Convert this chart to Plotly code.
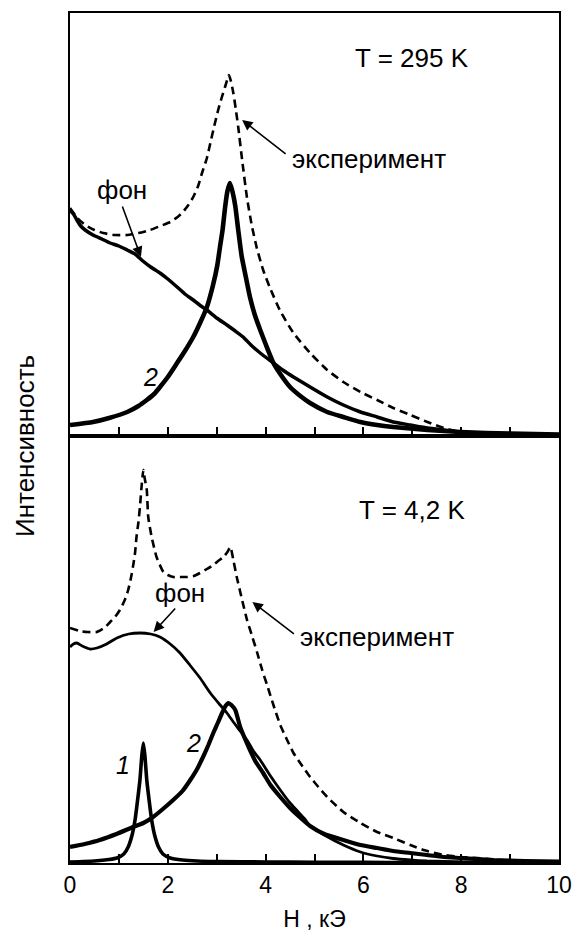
import plotly.graph_objects as go

# ---------------- data (H in kOe, intensity in arbitrary units) ----------------
# Top panel: T = 295 K
top_exp_x = [0, 0.15, 0.31, 0.5, 0.68, 0.9, 1.17, 1.4, 1.64, 1.85, 2.05, 2.2, 2.31, 2.42, 2.52,
             2.62, 2.70, 2.8, 2.87, 2.95, 3.03, 3.1, 3.17, 3.22, 3.25, 3.29, 3.34, 3.39, 3.44,
             3.52, 3.62, 3.72, 3.82, 3.95, 4.09, 4.30, 4.57, 4.91, 5.26, 5.59, 5.94, 6.28, 6.61,
             6.96, 7.31, 7.64, 7.98, 8.5, 9, 9.5, 10]
top_exp_y = [228, 218, 211, 206, 203, 201, 201, 203, 206, 210, 214, 219, 224, 231, 239,
             250, 263, 278, 293, 310, 326, 338, 349, 357, 361, 355, 343, 327, 309,
             276, 238, 210, 188, 166, 148, 125, 103, 83, 66, 54, 44, 36, 28,
             21, 14, 8, 4, 2.5, 1.5, 1, 0.5]

top_bg_x = [0, 0.07, 0.14, 0.22, 0.31, 0.47, 0.65, 0.82, 1.0, 1.17, 1.33, 1.49, 1.65, 1.84, 2.0,
            2.19, 2.35, 2.52, 2.65, 2.80, 3.0, 3.21, 3.38, 3.54, 3.7, 3.89, 4.16, 4.35, 4.57,
            4.91, 5.26, 5.59, 5.94, 6.28, 6.61, 6.96, 7.31, 7.64, 7.98, 8.5, 9, 9.5, 10]
top_bg_y = [226, 222, 216, 210, 206, 201, 197, 193, 190, 186, 182, 175, 169, 163, 157,
            149, 142, 136, 131, 126, 118, 111, 105, 99, 91, 83, 73, 66, 59,
            49, 39, 31, 24, 19, 14, 11, 8, 6, 4, 2.5, 1.5, 1, 0.5]

top_p2_x = [0, 0.47, 0.8, 1.17, 1.4, 1.57, 1.72, 1.84, 2.0, 2.19, 2.35, 2.52, 2.65, 2.80, 2.92,
            3.01, 3.07, 3.12, 3.17, 3.22, 3.27, 3.32, 3.38, 3.44, 3.51, 3.6, 3.68, 3.78, 3.89,
            4.0, 4.16, 4.3, 4.5, 4.71, 4.91, 5.26, 5.59, 5.94, 6.28, 6.61, 6.96, 7.31, 7.64,
            7.98, 8.5, 9, 9.5, 10]
top_p2_y = [11, 14, 18, 24, 30, 36, 42, 49, 59, 73, 85, 99, 112, 129, 150,
            170, 190, 206, 228, 245, 253, 245, 230, 206, 180, 158, 139, 121, 106,
            92, 73, 62, 49, 40, 33, 24, 19, 14, 11, 9, 7.5, 6, 5,
            4, 3, 2.5, 2, 1.5]

# Bottom panel: T = 4.2 K
bot_exp_x = [0, 0.2, 0.35, 0.55, 0.7, 0.82, 0.92, 1.02, 1.12, 1.19, 1.25, 1.30, 1.33, 1.36, 1.40,
             1.43, 1.47, 1.50, 1.53, 1.57, 1.60, 1.67, 1.77, 1.91, 2.0, 2.11, 2.25, 2.40, 2.53,
             2.66, 2.8, 2.93, 3.03, 3.14, 3.22, 3.28, 3.34, 3.41, 3.52, 3.62, 3.73, 3.83, 3.93,
             4.03, 4.16, 4.30, 4.44, 4.57, 4.75, 4.91, 5.08, 5.26, 5.59, 5.94, 6.28, 6.61, 6.96,
             7.23, 7.64, 8.0, 8.33, 8.8, 9.3, 10]
bot_exp_y = [235, 232, 231, 231, 235, 241, 246, 253, 263, 273, 286, 300, 310, 326, 341,
             356, 380, 393, 384, 373, 346, 326, 306, 291, 288, 286, 286, 286, 287,
             290, 294, 298, 302, 306, 311, 316, 303, 286, 263, 243, 226, 210, 193,
             178, 158, 138, 123, 110, 97, 86, 76, 66, 51, 40, 31, 25, 18,
             13, 8, 6, 5, 3, 2, 1]

bot_bg_x = [0, 0.07, 0.14, 0.25, 0.41, 0.55, 0.75, 0.96, 1.2, 1.43, 1.65, 1.84, 2.05, 2.25, 2.45,
            2.66, 2.87, 3.07, 3.21, 3.34, 3.48, 3.62, 3.75, 3.89, 4.1, 4.30, 4.5, 4.65, 4.8,
            4.91, 5.2, 5.59, 5.94, 6.28, 6.61, 6.96, 7.3, 7.64, 8, 9, 10]
bot_bg_y = [216, 219, 220, 217, 214, 215, 219, 225, 229, 230, 229, 226, 219, 210, 198,
            185, 170, 158, 150, 141, 132, 123, 112, 103, 87, 73, 60, 52, 44,
            37, 28, 18, 11, 7, 4.5, 3, 2, 1.5, 1, 0.5, 0.3]

bot_p2_x = [0, 0.3, 0.61, 0.95, 1.29, 1.5, 1.70, 1.9, 2.11, 2.3, 2.46, 2.6, 2.72, 2.83, 2.93,
            3.03, 3.11, 3.18, 3.24, 3.3, 3.38, 3.48, 3.58, 3.68, 3.8, 3.95, 4.1, 4.30, 4.5,
            4.65, 4.91, 5.2, 5.59, 5.94, 6.28, 6.61, 6.96, 7.3, 7.64, 8.0, 8.66, 9.3, 10]
bot_p2_y = [16, 19, 23, 29, 36, 40, 46, 54, 63, 72, 83, 94, 106, 118, 130,
            141, 150, 157, 160, 158, 153, 136, 124, 113, 101, 90, 78, 66, 55,
            48, 37, 29, 23, 18, 15, 12, 10, 8, 6, 5, 3, 2, 1.5]

bot_p1_x = [0, 0.5, 0.8, 0.96, 1.1, 1.19, 1.27, 1.33, 1.38, 1.43, 1.47, 1.50, 1.53, 1.57, 1.62,
            1.67, 1.73, 1.81, 1.9, 2.05, 2.3, 2.6, 3, 4, 5, 6, 7, 8, 9, 10]
bot_p1_y = [1, 2, 3.5, 5, 9, 16, 28, 43, 62, 83, 108, 120, 108, 83, 62,
            43, 28, 16, 9, 5, 3, 2, 1.5, 1, 0.8, 0.6, 0.5, 0.4, 0.3, 0.3]

x_ticks = [0, 1, 2, 3, 4, 5, 6, 7, 8, 9, 10]
x_ticktext = ["0", "", "2", "", "4", "", "6", "", "8", "", "10"]

FONT = "Liberation Sans, Arial, Helvetica, sans-serif"
BLACK = "#000000"

fig = go.Figure()

def line(x, y, xa, ya, width, dash=None):
    fig.add_trace(go.Scatter(
        x=x, y=y, xaxis=xa, yaxis=ya, mode="lines",
        line=dict(color=BLACK, width=width, dash=dash, shape="spline", smoothing=0.5),
        showlegend=False, hoverinfo="skip"))

# top panel
line(top_exp_x, top_exp_y, "x", "y", 2.6, "8px,5px")
line(top_bg_x, top_bg_y, "x", "y", 3.5)
line(top_p2_x, top_p2_y, "x", "y", 4.6)
# bottom panel
line(bot_exp_x, bot_exp_y, "x2", "y2", 2.6, "8px,5px")
line(bot_bg_x, bot_bg_y, "x2", "y2", 2.8)
line(bot_p2_x, bot_p2_y, "x2", "y2", 4.2)
line(bot_p1_x, bot_p1_y, "x2", "y2", 3.6)

split = (863 - 436) / 850.0

axis_common = dict(range=[0, 10], showline=True, linecolor=BLACK, linewidth=2, mirror=True,
                   ticks="inside", ticklen=9, tickwidth=1.5, tickcolor=BLACK,
                   tickvals=x_ticks, showgrid=False, zeroline=False, automargin=False)

yaxis_common = dict(showline=True, linecolor=BLACK, linewidth=2, mirror=True, ticks="",
                    showticklabels=False, showgrid=False, zeroline=False, automargin=False)

fig.update_layout(
    width=575, height=933, autosize=False,
    margin=dict(l=70, r=16, t=13, b=70, pad=0),
    paper_bgcolor="white", plot_bgcolor="white",
    font=dict(family=FONT, color=BLACK, size=22),
    xaxis=dict(**axis_common, anchor="y", domain=[0, 1], showticklabels=False, matches="x2"),
    yaxis=dict(**yaxis_common, domain=[split, 1], range=[0, 423]),
    xaxis2=dict(**axis_common, anchor="y2", domain=[0, 1], ticktext=x_ticktext,
                tickfont=dict(size=23, family=FONT, color=BLACK),
                title=dict(text="H , кЭ", font=dict(size=23, family=FONT, color=BLACK), standoff=14)),
    yaxis2=dict(**yaxis_common, domain=[0, split], range=[0, 427]),
)

def text(x, y, s, xa, ya, size=26, xanchor="center"):
    fig.add_annotation(x=x, y=y, xref=xa, yref=ya, text=s, showarrow=False,
                       xanchor=xanchor, yanchor="middle",
                       font=dict(size=size, family=FONT, color=BLACK))

def arrow(x_tail, y_tail, x_head, y_head, xa, ya):
    fig.add_annotation(x=x_head, y=y_head, ax=x_tail, ay=y_tail, xref=xa, yref=ya,
                       axref=xa, ayref=ya, text="", showarrow=True,
                       arrowhead=2, arrowsize=1.3, arrowwidth=1.6, arrowcolor=BLACK)

# top annotations
text(7.0, 378, "T = 295 K", "x", "y")
text(4.5, 277, "эксперимент", "x", "y", xanchor="left")
arrow(4.44, 281, 3.52, 316, "x", "y")
text(1.06, 246, "фон", "x", "y")
arrow(1.06, 231, 1.45, 179, "x", "y")
text(1.64, 59, "<i>2</i>", "x", "y", size=25)

# bottom annotations
text(7.0, 353, "T = 4,2 K", "x2", "y2")
text(4.66, 226, "эксперимент", "x2", "y2", xanchor="left")
arrow(4.61, 228, 3.73, 261, "x2", "y2")
text(2.25, 270, "фон", "x2", "y2")
arrow(2.18, 256, 1.71, 231, "x2", "y2")
text(1.09, 98, "<i>1</i>", "x2", "y2", size=25)
text(2.52, 120, "<i>2</i>", "x2", "y2", size=25)

# y title spanning both panels
fig.add_annotation(x=(25 - 70) / 489.0, y=(863 - 446) / 850.0, xref="paper", yref="paper",
                   text="Интенсивность", showarrow=False, textangle=-90,
                   xanchor="center", yanchor="middle",
                   font=dict(size=26, family=FONT, color=BLACK))

fig.write_html("out.html")
